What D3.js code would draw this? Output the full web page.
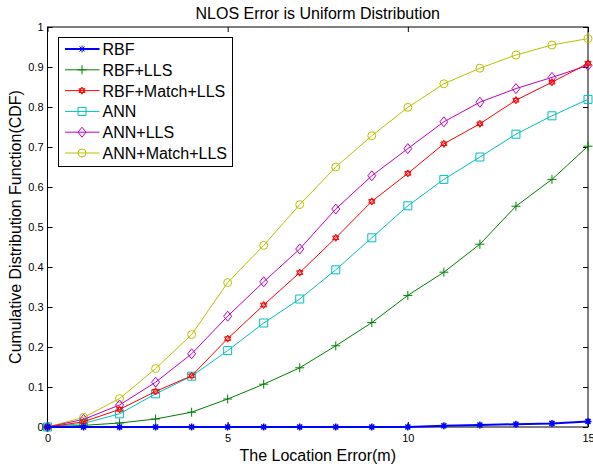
<!DOCTYPE html>
<html>
<head>
<meta charset="utf-8">
<script src="https://cdn.jsdelivr.net/npm/d3@7"></script>
<style>
  body { margin: 0; background: #fff; }
  svg { display: block; font-family: "Liberation Sans", Arial, sans-serif; }
</style>
</head>
<body>
<div id="chart"></div>
<script>
var errors = [0, 1, 2, 3, 4, 5, 6, 7, 8, 9, 10, 11, 12, 13, 14, 15];

var rbf = [0, 0, 0, 0, 0, 0, 0, 0, 0, 0, 0, 0.003, 0.005, 0.007, 0.009, 0.014];
var rbfLls = [0, 0.004, 0.01, 0.02, 0.037, 0.07, 0.107, 0.148, 0.203, 0.261, 0.329, 0.387, 0.457, 0.552, 0.619, 0.702];
var rbfMatchLls = [0, 0.013, 0.044, 0.089, 0.128, 0.221, 0.305, 0.386, 0.473, 0.564, 0.634, 0.708, 0.758, 0.817, 0.862, 0.909];
var ann = [0, 0.009, 0.033, 0.083, 0.127, 0.191, 0.26, 0.32, 0.393, 0.473, 0.553, 0.619, 0.675, 0.732, 0.778, 0.819];
var annLls = [0, 0.019, 0.055, 0.112, 0.183, 0.277, 0.363, 0.445, 0.545, 0.628, 0.696, 0.763, 0.812, 0.846, 0.874, 0.904];
var annMatchLls = [0, 0.024, 0.071, 0.146, 0.231, 0.361, 0.454, 0.556, 0.65, 0.728, 0.799, 0.858, 0.897, 0.93, 0.955, 0.971];

var seriesNames = ["RBF", "RBF+LLS", "RBF+Match+LLS", "ANN", "ANN+LLS", "ANN+Match+LLS"];
var seriesColors = ["#0000ff", "#008000", "#ff0000", "#00bfbf", "#bf00bf", "#bfbf00"];
var seriesMarkers = ["asterisk", "plus", "hexagram", "square", "diamond", "circle"];
var seriesValues = [rbf, rbfLls, rbfMatchLls, ann, annLls, annMatchLls];

var xTicks = [0, 5, 10, 15];
var yTicks = [0, 0.1, 0.2, 0.3, 0.4, 0.5, 0.6, 0.7, 0.8, 0.9, 1];

var width = 593, height = 466;
var margin = { top: 27, right: 5, bottom: 39, left: 47.5 };

var svg = d3.select("#chart").append("svg")
  .attr("width", width)
  .attr("height", height);

var x = d3.scaleLinear().domain([0, 15]).range([margin.left, width - margin.right]);
var y = d3.scaleLinear().domain([0, 1]).range([height - margin.bottom, margin.top]);

// marker shapes, drawn as paths around (0,0)
function markerPath(kind) {
  if (kind == "circle") return d3.symbol(d3.symbolCircle, 50)();
  if (kind == "square") return "M-4,-4H4V4H-4Z";
  if (kind == "diamond") return "M0,-5L4,0L0,5L-4,0Z";
  if (kind == "plus") return "M-4.5,0H4.5M0,-4.5V4.5";
  if (kind == "asterisk") return "M-3.5,0H3.5M0,-3.5V3.5M-2.5,-2.5L2.5,2.5M-2.5,2.5L2.5,-2.5";
  if (kind == "hexagram") {
    var r = 3.6, p1 = [], p2 = [];
    for (var i = 0; i < 3; i++) {
      var a1 = -Math.PI / 2 + i * 2 * Math.PI / 3;
      var a2 = Math.PI / 2 + i * 2 * Math.PI / 3;
      p1.push([r * Math.cos(a1), r * Math.sin(a1)]);
      p2.push([r * Math.cos(a2), r * Math.sin(a2)]);
    }
    return "M" + p1.join("L") + "Z" + "M" + p2.join("L") + "Z";
  }
}

// axes box
svg.append("rect")
  .attr("x", margin.left)
  .attr("y", margin.top)
  .attr("width", x(15) - x(0))
  .attr("height", y(0) - y(1))
  .attr("fill", "none")
  .attr("stroke", "#000")
  .attr("stroke-width", 1);

// ticks pointing inward, all four sides
svg.append("g")
  .attr("transform", "translate(0," + y(0) + ")")
  .call(d3.axisBottom(x).tickValues(xTicks).tickSizeInner(-5).tickSizeOuter(0).tickPadding(7)
    .tickFormat(d3.format("d")))
  .call(function (g) { g.select(".domain").remove(); })
  .call(function (g) { g.selectAll("text").attr("font-size", "11px").attr("font-family", "Liberation Sans, Arial, sans-serif"); });

svg.append("g")
  .attr("transform", "translate(0," + y(1) + ")")
  .call(d3.axisTop(x).tickValues(xTicks).tickSizeInner(-5).tickSizeOuter(0).tickFormat(""))
  .call(function (g) { g.select(".domain").remove(); });

svg.append("g")
  .attr("transform", "translate(" + x(0) + ",0)")
  .call(d3.axisLeft(y).tickValues(yTicks).tickSizeInner(-5).tickSizeOuter(0).tickPadding(4)
    .tickFormat(function (d) { return d === 0 ? "0" : d === 1 ? "1" : d3.format(".1f")(d); }))
  .call(function (g) { g.select(".domain").remove(); })
  .call(function (g) { g.selectAll("text").attr("font-size", "11px").attr("font-family", "Liberation Sans, Arial, sans-serif"); });

svg.append("g")
  .attr("transform", "translate(" + x(15) + ",0)")
  .call(d3.axisRight(y).tickValues(yTicks).tickSizeInner(-5).tickSizeOuter(0).tickFormat(""))
  .call(function (g) { g.select(".domain").remove(); });

// series
var line = d3.line()
  .x(function (d, i) { return x(errors[i]); })
  .y(function (d) { return y(d); });

// draw in reverse so RBF ends up on top
for (var s = seriesValues.length - 1; s >= 0; s--) {
  var g = svg.append("g");
  g.append("path")
    .datum(seriesValues[s])
    .attr("d", line)
    .attr("fill", "none")
    .attr("stroke", seriesColors[s])
    .attr("stroke-width", s === 0 ? 2 : 1);
  g.selectAll(".mk")
    .data(seriesValues[s])
    .enter()
    .append("path")
    .attr("class", "mk")
    .attr("transform", function (d, i) { return "translate(" + x(errors[i]) + "," + y(d) + ")"; })
    .attr("d", markerPath(seriesMarkers[s]))
    .attr("fill", "none")
    .attr("stroke", seriesColors[s])
    .attr("stroke-width", s === 0 ? 1.5 : 1);
}

// legend
var legend = svg.append("g").attr("transform", "translate(58.5,37.5)");
legend.append("rect")
  .attr("width", 174)
  .attr("height", 129)
  .attr("fill", "#fff")
  .attr("stroke", "#000");

seriesNames.forEach(function (name, i) {
  var row = legend.append("g").attr("transform", "translate(0," + (11.5 + i * 20.8) + ")");
  row.append("line")
    .attr("x1", 6.5).attr("x2", 41)
    .attr("stroke", seriesColors[i])
    .attr("stroke-width", i === 0 ? 2 : 1);
  row.append("path")
    .attr("transform", "translate(23.5,0)")
    .attr("d", markerPath(seriesMarkers[i]))
    .attr("fill", "none")
    .attr("stroke", seriesColors[i]);
  row.append("text")
    .attr("x", 44)
    .attr("y", 6)
    .attr("font-size", "16px")
    .text(name);
});

// title and axis labels
svg.append("text")
  .attr("x", (x(0) + x(15)) / 2)
  .attr("y", 19)
  .attr("text-anchor", "middle")
  .attr("font-size", "16px")
  .text("NLOS Error is Uniform Distribution");

svg.append("text")
  .attr("x", (x(0) + x(15)) / 2)
  .attr("y", 461)
  .attr("text-anchor", "middle")
  .attr("font-size", "16px")
  .text("The Location Error(m)");

svg.append("text")
  .attr("transform", "translate(21," + (y(0) + y(1)) / 2 + ") rotate(-90)")
  .attr("text-anchor", "middle")
  .attr("font-size", "16px")
  .text("Cumulative Distribution Function(CDF)");
</script>
</body>
</html>
